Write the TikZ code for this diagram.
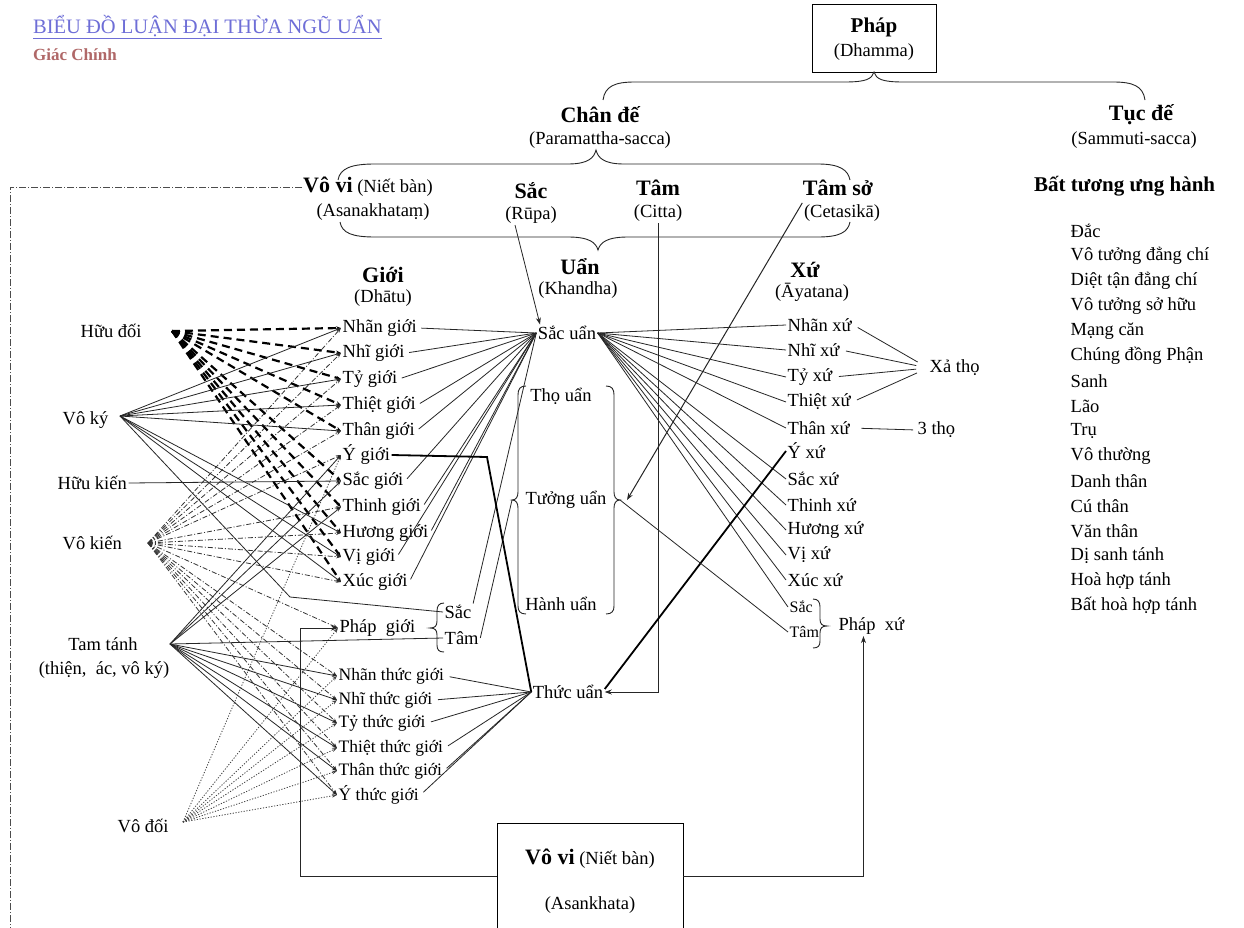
\documentclass[tikz,border=0pt]{standalone}
\usepackage{fontspec}
\setmainfont{Liberation Serif}
\usetikzlibrary{arrows.meta}
\definecolor{ttl}{RGB}{110,110,215}
\definecolor{gc}{RGB}{176,104,104}
\begin{document}
\begin{tikzpicture}[x=1pt,y=-1pt,
  t/.style={inner sep=1.5pt,font=\fontsize{18.5}{22}\selectfont},
  tl/.style={t,anchor=west},
  tsm/.style={inner sep=1.5pt,font=\fontsize{17.5}{20}\selectfont,anchor=west},
  hd/.style={inner sep=1pt,font=\fontsize{22}{26}\selectfont\bfseries},
  ln/.style={draw=black!85,line width=0.8pt},
  thicktwo/.style={draw=black,line width=1.8pt},
  arr/.style={-{Stealth[length=7pt,width=5pt]}},
  fan/.style={-{Stealth[length=5pt,width=3.5pt]}},
  hdoi/.style={draw=black,line width=2.2pt,dash pattern=on 8pt off 5pt},
  vkien/.style={draw=black!80,line width=0.8pt,dash pattern=on 5pt off 2pt on 1pt off 2pt},
  vdoi/.style={draw=black!75,line width=0.8pt,dash pattern=on 1.2pt off 1.6pt},
  solidfan/.style={draw=black!85,line width=0.8pt},
  brc/.style={draw=black!85,line width=0.9pt},
  boxst/.style={draw,line width=0.8pt,inner sep=0}
]
\fill[white] (0,0) rectangle (1244,928);
\path[use as bounding box] (0,0) rectangle (1244,928);

% title
\node[anchor=west,inner sep=0,text=ttl,font=\fontsize{20.5}{24}\selectfont] (title) at (33,27) {\underline{BIỂU ĐỒ LUẬN ĐẠI THỪA NGŨ UẨN}};
\node[anchor=west,inner sep=0,text=gc,font=\fontsize{17}{20}\selectfont\bfseries] (author) at (33,55) {Giác Chính};

% Phap
\node[boxst,minimum width=124pt,minimum height=68pt] (phap) at (874,38) {};
\node[inner sep=1pt,font=\fontsize{21}{24}\selectfont\bfseries] (phapt) at (874,27) {Pháp};
\node[t] (dhamma) at (874,52) {(Dhamma)};
\node[hd] (chande) at (600,115) {Chân đế};
\node[t] (param) at (600,140) {(Paramattha-sacca)};
\node[hd] (tucde) at (1141,115) {Tục đế};
\node[t] (sammuti) at (1134,140) {(Sammuti-sacca)};
\draw[brc] (603,100) .. controls (605,86) and (615,82) .. (635,82) -- (845,82) .. controls (866,82) and (872,79) .. (874,72) .. controls (876,79) and (882,82) .. (903,82) -- (1113,82) .. controls (1133,82) and (1143,86) .. (1145,100);
\draw[brc] (338,180) .. controls (340,168) and (352,164) .. (375,164) -- (568,164) .. controls (588,164) and (594,158) .. (596,150) .. controls (598,158) and (604,164) .. (624,164) -- (818,164) .. controls (840,164) and (848,170) .. (850,180);

% row
\node[anchor=west,inner sep=1pt,font=\fontsize{18.5}{22}\selectfont] (vovi) at (302,187) {{\fontsize{22}{26}\selectfont\bfseries Vô vi} (Niết bàn)};
\node[t] (asan) at (373,212) {(Asanakhataṃ)};
\node[hd] (sac) at (531,191) {Sắc};
\node[t] (rupa) at (531,215) {(Rūpa)};
\node[hd] (tam) at (658,188) {Tâm};
\node[t] (citta) at (658,213) {(Citta)};
\node[hd] (tamso) at (838,188) {Tâm sở};
\node[t] (ceta) at (842,213) {(Cetasikā)};
\draw[brc] (340,222) .. controls (342,233) and (352,237) .. (375,237) -- (568,237) .. controls (590,237) and (596,243) .. (598,250) .. controls (600,243) and (606,237) .. (628,237) -- (818,237) .. controls (840,237) and (848,232) .. (850,222);
\coordinate (vvl) at (10,928);
\draw[draw=black!70,line width=0.8pt,dash pattern=on 7pt off 2pt on 1pt off 2pt] (vovi.west) -| (vvl);

% headers
\node[hd] (gioi) at (383,275) {Giới};
\node[t] (dhatu) at (383,298) {(Dhātu)};
\node[hd] (uan) at (580,267) {Uẩn};
\node[t] (khandha) at (578,290) {(Khandha)};
\node[hd] (xu) at (805,270) {Xứ};
\node[t] (ayatana) at (812,292) {(Āyatana)};

% gioi list
\foreach \i/\y/\s in {1/328/Nhãn giới,2/353/Nhĩ giới,3/379/Tỷ giới,4/405/Thiệt giới,5/431/Thân giới,6/455/Ý giới,7/481/Sắc giới,8/507/Thinh giới,9/533/Hương giới,10/557/Vị giới,11/582/Xúc giới}
  \node[tl] (g\i) at (341,\y) {\s};
\node[tl] (pg) at (338,628) {Pháp\ \ giới};
\draw[brc] (444,603) .. controls (439,603) and (437,606) .. (437,611) -- (437,621) .. controls (437,626) and (435,628) .. (430,628) .. controls (435,628) and (437,630) .. (437,635) -- (437,645) .. controls (437,650) and (439,652) .. (444,652);
\node[tl] (pgs) at (443,612) {Sắc};
\node[tl] (pgt) at (443,638) {Tâm};
\foreach \i/\y/\s in {1/676/Nhãn thức giới,2/700/Nhĩ thức giới,3/723/Tỷ thức giới,4/748/Thiệt thức giới,5/771/Thân thức giới,6/795/Ý thức giới}
  \node[tsm] (tg\i) at (337,\y) {\s};

% uan
\node[t] (su) at (567,333) {Sắc uẩn};
\node[t] (thou) at (561,396) {Thọ uẩn};
\node[t] (tuu) at (566,500) {Tưởng uẩn};
\node[t] (hu) at (561,604) {Hành uẩn};
\node[t] (thuc) at (568,692) {Thức uẩn};
\coordinate (tuL) at (512,500);
\coordinate (tuR) at (620,500);
\draw[brc] (526,386) .. controls (520,386) and (518,389) .. (518,395) -- (518,492) .. controls (518,497) and (516,500) .. (tuL) .. controls (516,500) and (518,503) .. (518,508) -- (518,606) .. controls (518,611) and (520,614) .. (526,614);
\draw[brc] (606,386) .. controls (612,386) and (614,389) .. (614,395) -- (614,492) .. controls (614,497) and (616,500) .. (tuR) .. controls (616,500) and (614,503) .. (614,508) -- (614,606) .. controls (614,611) and (612,614) .. (606,614);

% xu list
\foreach \i/\y/\s in {1/325/Nhãn xứ,2/350/Nhĩ xứ,3/377/Tỷ xứ,4/402/Thiệt xứ,5/428/Thân xứ,6/451/Ý xứ,7/479/Sắc xứ,8/505/Thinh xứ,9/530/Hương xứ,10/555/Vị xứ,11/580/Xúc xứ}
  \node[tl] (x\i) at (786,\y) {\s};
\node[anchor=west,inner sep=1.5pt,font=\fontsize{16}{19}\selectfont] (pxs) at (788,607) {Sắc};
\node[anchor=west,inner sep=1.5pt,font=\fontsize{16}{19}\selectfont] (pxt) at (788,632) {Tâm};
\draw[brc] (813,599) .. controls (818,599) and (820,602) .. (820,607) -- (820,619) .. controls (820,624) and (822,626) .. (827,626) .. controls (822,626) and (820,628) .. (820,633) -- (820,641) .. controls (820,646) and (818,648) .. (813,648);
\node[tl] (px) at (837,626) {Pháp\ \ xứ};
\node[tl] (xt) at (928,368) {Xả thọ};
\node[tl] (bt) at (916,430) {3 thọ};
\foreach \i in {1,2,3,4} \draw[ln,shorten <=5pt,shorten >=12pt] (x\i.east) -- (xt.west);
\draw[ln,shorten <=10pt,shorten >=3pt] (x5.east) -- (bt.west);

% right column
\node[anchor=west,inner sep=1pt,font=\fontsize{21}{25}\selectfont\bfseries] (btuh) at (1033,186) {Bất tương ưng hành};
\foreach \i/\s in {0/Đắc,1/Vô tưởng đẳng chí,2/Diệt tận đẳng chí,3/Vô tưởng sở hữu,4/Mạng căn,5/Chúng đồng Phận,6/Sanh,7/Lão,8/Trụ,9/Vô thường,10/Danh thân,11/Cú thân,12/Văn thân,13/Dị sanh tánh,14/Hoà hợp tánh,15/Bất hoà hợp tánh}
  \node[tl] (r\i) at (1069,{231+25*\i}) {\s};

% left labels
\node[tl] (lhd) at (79,331) {Hữu đối};
\node[tl] (lvk) at (61,420) {Vô ký};
\node[tl] (lhk) at (56,483) {Hữu kiến};
\node[tl] (lvki) at (61,543) {Vô kiến};
\node[t] (ltt) at (103,644) {Tam tánh};
\node[t] (ltt2) at (104,670) {(thiện,\ \ ác, vô ký)};
\node[tl] (lvd) at (116,826) {Vô đối};
\coordinate (oHD) at (172,331);
\coordinate (oVK) at (120,416);
\coordinate (oVKi) at (148,543);
\coordinate (oTT) at (170,644);
\coordinate (oVD) at (183,822);
\coordinate (vkb) at (290,597);
\coordinate (ygb) at (487,457);
\coordinate (pgc) at (300,628);

% fans
\foreach \i in {1,2,3,4,5,6,8,9,10,11} \draw[vkien,fan] (oVKi) -- (g\i.west);
\draw[vkien,fan] (oVKi) -- (pg.west);
\foreach \i in {1,...,6} \draw[vkien,fan] (oVKi) -- (tg\i.west);
\draw[vdoi,fan] (oVD) -- (g6.west);
\draw[vdoi,fan] (oVD) -- (pg.west);
\foreach \i in {1,...,6} \draw[vdoi,fan] (oVD) -- (tg\i.west);
\foreach \i in {1,2,3,4,5,7,8,9,10,11} \draw[hdoi,fan] (oHD) -- (g\i.west);
\foreach \i in {1,2,3,4,5,9,10,11} \draw[solidfan,fan] (oVK) -- (g\i.west);
\draw[solidfan] (oVK) -- (vkb) -- (pgs.west);
\draw[solidfan,fan] (lhk.east) -- (g7.west);
\foreach \i in {6,7,8} \draw[solidfan,fan] (oTT) -- (g\i.west);
\draw[solidfan] (oTT) -- (pgt.west);
\foreach \i in {1,...,6} \draw[solidfan,fan] (oTT) -- (tg\i.west);

% gioi -> uan
\foreach \i in {1,2,3,4,5,7,8,9,10,11} \draw[ln,shorten <=3pt] (g\i.east) -- (su.west);
\draw[ln] (pgs.north east) -- (su.west);
\draw[ln] (pgt.east) -- (tuL);
\draw[thicktwo] (g6.east) -- (ygb) -- (thuc.west);
\foreach \i in {1,...,6} \draw[ln,shorten <=4pt] (tg\i.east) -- (thuc.west);
\draw[ln,arr] (citta.south) -- (citta.south |- thuc.east) -- (thuc.east);
\draw[ln,arr] ([xshift=-16pt]rupa.south) -- ([xshift=-27pt]su.north);
\draw[ln,line width=1pt,arr] (ceta.north west) -- ([xshift=7pt]tuR);

% uan -> xu
\foreach \i in {1,2,3,4,5,7,8,9,10,11} \draw[ln] (su.east) -- (x\i.west);
\draw[ln] (su.east) -- (pxs.west);
\draw[thicktwo] ([yshift=3pt]thuc.east) -- (x6.west);
\draw[ln] (tuR) -- (pxt.west);

% vo vi box
\node[boxst,minimum width=186pt,minimum height=106pt] (vb) at (590,876) {};
\node[anchor=center,inner sep=1pt,font=\fontsize{18.5}{22}\selectfont] (vbt) at (590,859) {{\fontsize{22}{26}\selectfont\bfseries Vô vi} (Niết bàn)};
\node[t] (vbt2) at (590,905) {(Asankhata)};
\draw[ln,arr] (vb.west) -| (pgc) -- (pg.west);
\draw[ln,arr] (vb.east) -| ([xshift=-8pt]px.south);
\end{tikzpicture}
\end{document}
